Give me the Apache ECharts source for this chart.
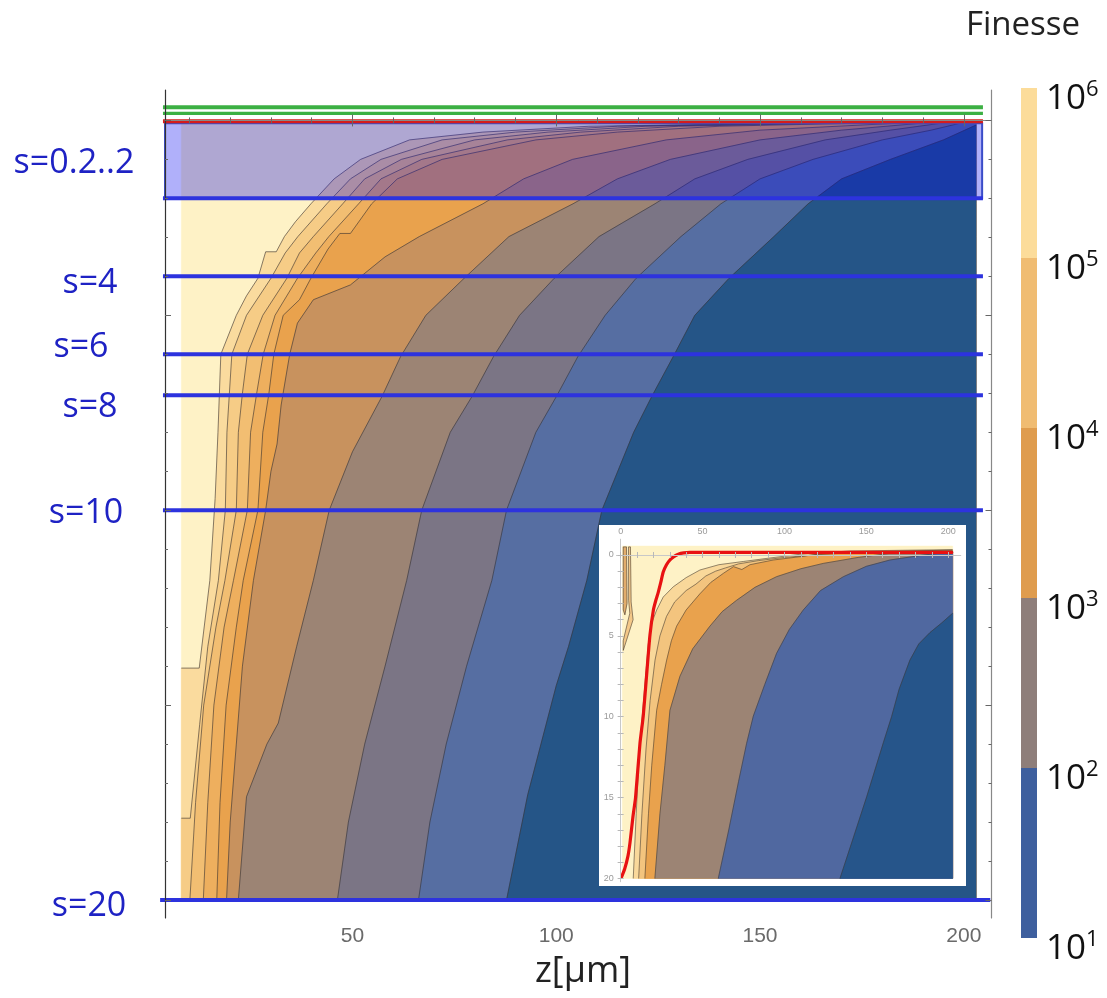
<!DOCTYPE html>
<html>
<head>
<meta charset="utf-8">
<script src="https://cdn.jsdelivr.net/npm/echarts@6/dist/echarts.min.js"></script>
<style>
  html, body { margin: 0; padding: 0; background: #ffffff; }
  #chart { width: 1107px; height: 998px; }
</style>
</head>
<body>
<div id="chart"></div>
<script>
// ---------- axes ----------
const zMajorTicks = [50, 100, 150, 200];
const zMinorTicks = [10, 20, 30, 40, 60, 70, 80, 90, 110, 120, 130, 140, 160, 170, 180, 190];
const sMajorTicks = [0, 5, 10, 15, 20];
const sMinorTicks = [1, 2, 3, 4, 6, 7, 8, 9, 11, 12, 13, 14, 16, 17, 18, 19];

// ---------- colour scale (Finesse) ----------
const finesseBands = [[1e1, 1e2], [1e2, 1e3], [1e3, 1e4], [1e4, 1e5], [1e5, 1e6]];
const finesseBandColors = ['#3e5f9e', '#8e7e7a', '#df9c4e', '#f0bc72', '#fcdc9a'];
const finesseTicks = [1e1, 1e2, 1e3, 1e4, 1e5, 1e6];

// ---------- main contour map: iso-lines as (z, s) ----------
const mainDomain = { z0: 8, z1: 203, s0: 0.05, s1: 20 };
const mainRegionColors = ['#fef2c6', '#fadb9e', '#f6cc86', '#f2be72', '#eeaf5e', '#e9a24d',
                          '#c8925e', '#9c8474', '#7b7585', '#566ea2', '#255587'];
const contour1 = [[8,14.05],[12.4,14.05],[15.0,11.8],[16.3,9.7],[17.0,8],[17.7,6],[21.5,5],[24,4.5],[26.8,4.05],[28.7,3.37],[31.3,3.37],[33.3,2.98],[36,2.6],[39.8,2.14],[45.5,1.5],[52,1],[64,0.5],[82,0.3],[108,0.15],[168,0.05]];
const contour2 = [[8,17.9],[10.2,17.9],[12.5,15.5],[14.5,13.5],[17.1,11.8],[18.8,10],[19.2,8],[20.4,6],[24,5],[30,4.05],[33.5,3.4],[36.6,2.98],[43.7,2.14],[49.5,1.5],[57,1],[72,0.5],[90,0.3],[115,0.15],[172,0.05]];
const contour3 = [[10.1,20],[11.5,17.5],[13.5,15],[16.5,13],[18.7,11.8],[21.5,10],[22,8],[23,7],[24.2,6],[28,5],[33.9,4.05],[37,3.4],[40.4,2.98],[47.6,2.14],[53,1.5],[62,1],[80,0.5],[98,0.3],[122,0.15],[176,0.05]];
const contour4 = [[13.4,20],[14.5,17.5],[16,15],[18.5,13],[20.8,11.8],[24.2,10],[25,8],[26.5,7],[28.1,6],[31,5],[36.5,4.05],[41,3.4],[44.2,2.98],[51.5,2.14],[57,1.5],[67,1],[88,0.5],[106,0.3],[130,0.15],[180,0.05]];
const contour5 = [[16.7,20],[17.5,17.5],[19,15],[21.5,13],[23.2,11.8],[26.8,10],[28,8],[29.5,7],[30.7,6],[33,5],[37,4.6],[39.8,4.05],[44,3.3],[46.9,2.9],[49.5,2.9],[54.7,2.14],[61,1.5],[72,1],[95,0.5],[115,0.3],[140,0.15],[184,0.05]];
const contour6 = [[19.1,20],[20,18],[21.5,16],[23,14],[25.7,11.8],[28.7,10],[30,9],[31.5,8.3],[32.5,7.3],[34.6,6],[36.5,5.2],[40.4,4.6],[49.5,4.22],[51.5,4.05],[58,3.5],[66.4,2.98],[82,2.14],[92,1.5],[104,1],[127,0.5],[150,0.25],[188,0.05]];
const contour7 = [[22,20],[24,17.35],[29,16],[31.8,15.46],[36.3,13.5],[40.4,11.8],[44.3,10],[50,8.5],[57.3,7.07],[61.8,6.06],[68,5],[77.4,4.05],[88.4,2.98],[104.1,2.14],[115,1.5],[128,1],[150,0.5],[170,0.25],[192,0.05]];
const contour8 = [[46.3,20],[49,18],[53,16],[58,14],[63.3,11.8],[67,10],[74,8],[79.4,7.07],[84.6,6.06],[91,5],[99.5,4.05],[110.5,2.98],[124.2,2.14],[134,1.5],[147,1],[166,0.5],[182,0.25],[196,0.05]];
const contour9 = [[66.2,20],[69,18],[73,16],[78,14],[84.2,11.8],[87.8,10],[95,8],[100.1,7.07],[105.3,6.06],[112,5],[119.6,4.05],[130.6,2.98],[140.4,2.14],[150,1.5],[163,1],[180,0.5],[192,0.25],[200,0.05]];
const contour10 = [[87.8,20],[93,17.3],[100,14.5],[103,13.5],[107.5,11.8],[111.2,10],[119,8],[123.5,7.07],[128.7,6.06],[134,5],[142.4,4.05],[153.4,2.98],[161.8,2.14],[170,1.5],[182,1],[195,0.5],[203,0.12]];
const mainContours = [contour1, contour2, contour3, contour4, contour5, contour6, contour7, contour8, contour9, contour10];

// ---------- horizontal guides ----------
const sGuideLevels = [2, 4, 6, 7.05, 10, 20];
const sGuideLabels = ['s=0.2..2', 's=4', 's=6', 's=8', 's=10', 's=20'];
const greenLevels = [-0.338, -0.18];
const redLevel = [0.02];
const boxRange = [0.07, 2];

// ---------- inset ----------
const insetZTicks = [0, 10, 20, 30, 40, 50, 60, 70, 80, 90, 100, 110, 120, 130, 140, 150, 160, 170, 180, 190, 200];
const insetZLabels = [0, 50, 100, 150, 200];
const insetSTicks = [0, 1, 2, 3, 4, 5, 6, 7, 8, 9, 10, 11, 12, 13, 14, 15, 16, 17, 18, 19, 20];
const insetSLabels = [0, 5, 10, 15, 20];
const insetDomain = { z0: 1, z1: 202.7, s0: -0.55, s1: 20 };
const insetRegionColors = ['#fef2c6', '#f9d89a', '#f3c47e', '#e9a24d', '#9c8474', '#5068a0', '#26558a'];
const insetLine1 = [[7.7,20],[9.5,16],[11.5,12],[14,9],[16.9,5.5],[19,4.2],[22,3.4],[26,2.6],[32.1,1.97],[40,1.4],[48.4,0.93],[60,0.6],[75,0.4],[90,0.2],[110,-0.05],[140,-0.25],[202.7,-0.33]];
const insetLine2 = [[11,20],[13,16],[15.5,12],[18,9],[21,6.5],[24,5],[28,3.8],[33,2.9],[40,2.2],[46,1.8],[52,1.3],[58,1.0],[64,0.8],[72,0.55],[84,0.35],[100,0.15],[118,0.0],[150,-0.2],[202.7,-0.3]];
const insetLine3 = [[14.8,20],[17,16],[19,13],[22,9.6],[25,8],[28.1,6.5],[31,5.3],[34.2,4.4],[40,3.4],[48.4,2.4],[55,1.7],[62.8,1.13],[68.9,0.72],[74,0.9],[79,0.6],[93.2,0.31],[110,0.1],[123.7,-0.1],[160,-0.2],[202.7,-0.25]];
const insetLine4 = [[20.9,20],[24,16],[27,13],[30.1,9.6],[36.2,7.5],[44,5.8],[54.5,4.4],[62,3.5],[70.8,2.8],[82,2],[95.2,1.34],[110,0.85],[123.7,0.52],[145,0.15],[164.4,-0.1],[202.7,-0.22]];
const insetLine5 = [[59.6,20],[66,17],[72,14],[76.9,11.65],[81,9.96],[88,8],[95.2,6.08],[103,4.6],[111.5,3.4],[122,2.2],[136,1.34],[150,0.7],[164.4,0.31],[185,0],[202.7,-0.2]];
const insetLine6 = [[133.9,20],[142,17.5],[150.2,14.95],[160.4,11.6],[165.4,10],[170,8.3],[176.6,6.5],[182,5.5],[188.8,4.8],[196,4.2],[202.7,3.6]];
const insetContours = [insetLine1, insetLine2, insetLine3, insetLine4, insetLine5, insetLine6];
const insetSliverA = [[1.6,-0.5],[3.6,-0.5],[3.9,3.0],[2.6,3.7],[1.6,3.4]];
const insetSliverB = [[4.8,-0.5],[6.0,-0.5],[6.4,2.9],[7.6,4.0],[1.6,5.9],[1.6,5.3],[5.6,3.6],[4.9,2.8]];
const insetIslands = [{ pts: insetSliverA, color: '#e2ad6c' }, { pts: insetSliverB, color: '#f4c888' }];
const redCurve = [[0.6,19.9],[2.5,19.4],[4.5,18.6],[5.7,17.8],[7.5,16.2],[9.1,15.0],[11.8,11.65],[13.8,9.96],[15.8,7.5],[17.9,4.95],[20.0,3.4],[21.5,2.8],[23.0,2.3],[24.5,1.7],[26.0,1.05],[28,0.6],[30.1,0.31],[32.5,0.1],[35.2,-0.05],[38.5,-0.13],[42.3,-0.16],[202.1,-0.16]];

// ---------- drawing helpers ----------
// polygon covering everything to the right of an iso-line (line runs bottom -> top)
function regionRight(line, dom) {
  const pts = line.slice();
  const first = line[0];
  const last = line[line.length - 1];
  if (last[0] < dom.z1 - 1e-6) pts.push([dom.z1, dom.s0]);
  pts.push([dom.z1, dom.s1]);
  if (first[1] < dom.s1 - 1e-6) pts.push([dom.z0, dom.s1]);
  return pts;
}

function fillSeries(lines, colors, dom, islands, xi, yi, z) {
  const items = [{ poly: [[dom.z0, dom.s0], [dom.z1, dom.s0], [dom.z1, dom.s1], [dom.z0, dom.s1]], color: colors[0] }];
  lines.forEach((ln, i) => items.push({ poly: regionRight(ln, dom), color: colors[i + 1] }));
  (islands || []).forEach(is => items.push({ poly: is.pts, color: is.color }));
  return {
    type: 'custom', xAxisIndex: xi, yAxisIndex: yi, z: z, silent: true, clip: false,
    data: items.map((_, i) => [dom.z0, dom.s0, i]),
    renderItem: (params, api) => {
      const it = items[params.dataIndex];
      return {
        type: 'polygon', z2: params.dataIndex,
        shape: { points: it.poly.map(p => api.coord(p)) },
        style: { fill: it.color, stroke: it.color, lineWidth: 0.5 }
      };
    }
  };
}

function outlineSeries(lines, closed, xi, yi, z, color) {
  const all = lines.map(l => ({ pts: l, closed: false })).concat(closed.map(c => ({ pts: c.pts, closed: true })));
  return {
    type: 'custom', xAxisIndex: xi, yAxisIndex: yi, z: z, silent: true, clip: false,
    data: all.map((_, i) => [0, 0, i]),
    renderItem: (params, api) => {
      const it = all[params.dataIndex];
      return {
        type: it.closed ? 'polygon' : 'polyline',
        shape: { points: it.pts.map(p => api.coord(p)) },
        style: { fill: null, stroke: color, lineWidth: 1 }
      };
    }
  };
}

function hLineSeries(levels, color, widths, span, z) {
  return {
    type: 'custom', xAxisIndex: 0, yAxisIndex: 0, z: z, silent: true, clip: false,
    data: levels.map((s, i) => [span[0], s, i]),
    renderItem: (params, api) => {
      const s = api.value(1);
      const wide = s >= 20;
      const a = api.coord([wide ? 2.8 : span[0], s]);
      const b = api.coord([wide ? 206.5 : span[1], s]);
      const w = Array.isArray(widths) ? widths[params.dataIndex] : widths;
      return { type: 'line', shape: { x1: a[0], y1: a[1], x2: b[0], y2: b[1] }, style: { stroke: color, lineWidth: w } };
    }
  };
}

function frameAxis(base, extra) { return Object.assign({}, base, extra); }

const mainX = { gridIndex: 0, type: 'value', min: 4, max: 206.8, splitLine: { show: false }, z: 6 };
const mainY = { gridIndex: 0, type: 'value', min: -0.78, max: 20.46, inverse: true, splitLine: { show: false }, z: 6 };
const tickStyle = { color: '#666', width: 1 };
const noLabel = { show: false };
const noLine = { show: false };

const insetX = { gridIndex: 2, type: 'value', min: -2.4, max: 207.6, splitLine: { show: false }, z: 15 };
const insetY = { gridIndex: 2, type: 'value', min: -0.97, max: 20.2, inverse: true, splitLine: { show: false }, z: 15 };
const insetTick = { inside: true, length: 3, lineStyle: { color: '#b8b8b8' } };
const insetAxisLine = { show: true, lineStyle: { color: '#c8c8c8', width: 1 } };
const insetLabel = { fontSize: 9, color: '#9a9a9a', fontFamily: 'Liberation Sans', margin: 3 };

const labelFont = '34px "Open Sans"';
const labelColor = '#1e22c4';
const guideLabelPos = [[74, 163], [90, 283], [81, 347], [90, 407], [86, 513], [89, 906]];

const chart = echarts.init(document.getElementById('chart'), null, { renderer: 'canvas' });

chart.setOption({
  animation: false,
  backgroundColor: '#ffffff',
  grid: [
    { left: 165, top: 90, width: 826.5, height: 828 },
    { left: 1021, top: 88, width: 16, height: 850 },
    { left: 616.7, top: 539.3, width: 344, height: 342.4 }
  ],
  xAxis: [
    frameAxis(mainX, { position: 'bottom', axisLine: { show: true, lineStyle: { color: '#555', width: 1.2 } },
      axisTick: { inside: true, length: 6, customValues: zMajorTicks, lineStyle: tickStyle },
      axisLabel: { customValues: zMajorTicks, fontSize: 21, color: '#6a6a6a', fontFamily: 'Liberation Sans', margin: 8 } }),
    frameAxis(mainX, { position: 'bottom', axisLine: noLine,
      axisTick: { inside: true, length: 3, customValues: zMinorTicks, lineStyle: tickStyle }, axisLabel: noLabel }),
    frameAxis(mainX, { position: 'top', axisLine: { show: true, lineStyle: { color: '#888', width: 1 } },
      axisTick: { inside: true, length: 6, customValues: zMajorTicks, lineStyle: tickStyle }, axisLabel: noLabel }),
    frameAxis(mainX, { position: 'top', axisLine: noLine,
      axisTick: { inside: true, length: 3, customValues: zMinorTicks, lineStyle: tickStyle }, axisLabel: noLabel }),
    { gridIndex: 1, type: 'value', min: 0, max: 1, show: false },
    frameAxis(insetX, { position: 'top', axisLine: insetAxisLine,
      axisTick: Object.assign({ customValues: insetZTicks }, insetTick),
      axisLabel: Object.assign({ customValues: insetZLabels }, insetLabel) }),
    frameAxis(insetX, { position: 'bottom', axisLine: insetAxisLine,
      axisTick: Object.assign({ customValues: insetZTicks }, insetTick), axisLabel: noLabel })
  ],
  yAxis: [
    frameAxis(mainY, { position: 'left', axisLine: { show: true, lineStyle: { color: '#333', width: 1.2 } },
      axisTick: { inside: true, length: 6, customValues: sMajorTicks, lineStyle: tickStyle }, axisLabel: noLabel }),
    frameAxis(mainY, { position: 'left', axisLine: noLine,
      axisTick: { inside: true, length: 3, customValues: sMinorTicks, lineStyle: tickStyle }, axisLabel: noLabel }),
    frameAxis(mainY, { position: 'right', axisLine: { show: true, lineStyle: { color: '#888', width: 1.2 } },
      axisTick: { inside: true, length: 6, customValues: sMajorTicks, lineStyle: tickStyle }, axisLabel: noLabel }),
    frameAxis(mainY, { position: 'right', axisLine: noLine,
      axisTick: { inside: true, length: 3, customValues: sMinorTicks, lineStyle: tickStyle }, axisLabel: noLabel }),
    { gridIndex: 1, type: 'log', logBase: 10, min: 10, max: 1e6, position: 'right',
      axisLine: { show: false }, axisTick: { show: false }, splitLine: { show: false },
      axisLabel: {
        customValues: finesseTicks, margin: 9, padding: [22, 0, 0, 0],
        formatter: v => '{b|10}{e|' + Math.round(Math.log10(v)) + '}',
        rich: {
          b: { fontSize: 35, fontFamily: 'Open Sans', color: '#111', lineHeight: 40 },
          e: { fontSize: 22, fontFamily: 'Open Sans', color: '#111', verticalAlign: 'top', lineHeight: 40 }
        }
      } },
    frameAxis(insetY, { position: 'left', axisLine: insetAxisLine,
      axisTick: Object.assign({ customValues: insetSTicks }, insetTick),
      axisLabel: Object.assign({ customValues: insetSLabels }, insetLabel) }),
    frameAxis(insetY, { position: 'right', axisLine: insetAxisLine,
      axisTick: Object.assign({ customValues: insetSTicks }, insetTick), axisLabel: noLabel })
  ],
  graphic: [
    { type: 'rect', z: 11, shape: { x: 599, y: 525, width: 367, height: 361 }, style: { fill: '#ffffff' } },
    { type: 'text', z: 20, x: 583, y: 972, style: { text: 'z[μm]', font: '36px "Open Sans"', fill: '#222', align: 'center', verticalAlign: 'middle' } },
    { type: 'text', z: 20, x: 1023, y: 26, style: { text: 'Finesse', font: '33px "Open Sans"', fill: '#222', align: 'center', verticalAlign: 'middle' } }
  ].concat(sGuideLabels.map((t, i) => ({
    type: 'text', z: 20, x: guideLabelPos[i][0], y: guideLabelPos[i][1],
    style: { text: t, font: labelFont, fill: labelColor, align: 'center', verticalAlign: 'middle' }
  }))),
  series: [
    fillSeries(mainContours, mainRegionColors, mainDomain, [], 0, 0, 1),
    outlineSeries(mainContours, [], 0, 0, 2, 'rgba(55,50,50,0.6)'),
    {
      // translucent band s = 0.2 .. 2
      type: 'custom', xAxisIndex: 0, yAxisIndex: 0, z: 3, silent: true, clip: false,
      data: [[4, boxRange[0], boxRange[1]]],
      renderItem: (params, api) => {
        const a = api.coord([4, api.value(1)]);
        const b = api.coord([204.5, api.value(2)]);
        return { type: 'rect', shape: { x: a[0], y: a[1], width: b[0] - a[0], height: b[1] - a[1] },
          style: { fill: 'rgba(0,0,240,0.31)', stroke: '#3a4cc8', lineWidth: 2 } };
      }
    },
    hLineSeries(sGuideLevels, '#2d33de', 4, [3.5, 204.7], 4),
    hLineSeries(greenLevels, '#3cb043', [4, 3.2], [3.5, 204.7], 4),
    hLineSeries(redLevel, '#d41c1c', 4, [3.5, 204.7], 4),
    {
      type: 'custom', xAxisIndex: 4, yAxisIndex: 4, z: 2, silent: true,
      data: finesseBands.map((b, i) => [0, b[0], b[1], i]),
      encode: { x: 0, y: [1, 2] },
      renderItem: (params, api) => {
        const a = api.coord([0, api.value(2)]);
        const b = api.coord([1, api.value(1)]);
        return { type: 'rect', shape: { x: a[0], y: a[1], width: b[0] - a[0], height: b[1] - a[1] },
          style: { fill: finesseBandColors[params.dataIndex] } };
      }
    },
    fillSeries(insetContours, insetRegionColors, insetDomain, insetIslands, 5, 5, 12),
    outlineSeries(insetContours, insetIslands, 5, 5, 13, 'rgba(60,55,50,0.55)'),
    {
      type: 'line', xAxisIndex: 5, yAxisIndex: 5, z: 14, silent: true,
      data: redCurve, showSymbol: false, smooth: 0.2,
      lineStyle: { color: '#e81212', width: 3.2, cap: 'round' }
    }
  ]
});
</script>
</body>
</html>
